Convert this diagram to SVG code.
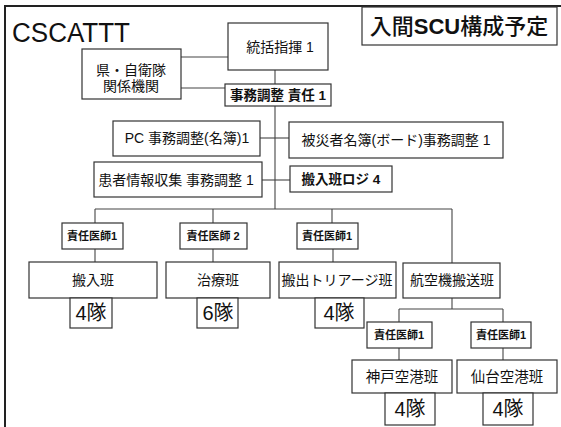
<svg xmlns="http://www.w3.org/2000/svg" width="561" height="427" viewBox="0 0 561 427">
<style>
  .box { fill: #fff; stroke: #333; stroke-width: 1.2; }
  .ln { stroke: #444; stroke-width: 1.1; fill: none; }
  text { font-family: "Liberation Sans", "Noto Sans CJK JP", sans-serif; fill: #111; text-anchor: middle; }
  .t14 { font-size: 14px; }
  .b13 { font-size: 13.5px; font-weight: bold; }
  .doc { font-size: 11px; font-weight: bold; }
  .tai { font-size: 20px; }
</style>
<rect x="0" y="0" width="561" height="427" fill="#fff"/>
<g id="frame">
  <line x1="5" y1="6" x2="561" y2="6" stroke="#222" stroke-width="2"/>
  <line x1="5" y1="5" x2="5" y2="427" stroke="#222" stroke-width="2"/>
</g>
<g id="title">
  <text x="12" y="42" style="font-size:27px;text-anchor:start" textLength="118" lengthAdjust="spacingAndGlyphs">CSCATTT</text>
</g>
<g id="plan">
  <rect class="box" x="362" y="7" width="195" height="38"/>
  <text x="459" y="34" style="font-size:22px;font-weight:500">入間<tspan style="font-weight:bold">SCU</tspan>構成予定</text>
</g>
<g id="connectors">
  <line class="ln" x1="181" y1="57" x2="228" y2="57"/>
  <line class="ln" x1="181" y1="88" x2="225" y2="88"/>
  <line class="ln" x1="275" y1="70" x2="275" y2="84"/>
  <line class="ln" x1="275" y1="106" x2="275" y2="209"/>
  <line class="ln" x1="260" y1="138" x2="289" y2="138"/>
  <line class="ln" x1="262" y1="180" x2="290" y2="180"/>
  <line class="ln" x1="95" y1="209" x2="452" y2="209"/>
  <line class="ln" x1="95" y1="209" x2="95" y2="223"/>
  <line class="ln" x1="213" y1="209" x2="213" y2="223"/>
  <line class="ln" x1="332" y1="209" x2="332" y2="223"/>
  <line class="ln" x1="452" y1="209" x2="452" y2="263"/>
  <line class="ln" x1="95" y1="249" x2="95" y2="262"/>
  <line class="ln" x1="213" y1="249" x2="213" y2="262"/>
  <line class="ln" x1="333" y1="249" x2="333" y2="262"/>
  <line class="ln" x1="452" y1="298" x2="452" y2="309"/>
  <line class="ln" x1="399" y1="309" x2="503" y2="309"/>
  <line class="ln" x1="399" y1="309" x2="399" y2="322"/>
  <line class="ln" x1="503" y1="309" x2="503" y2="322"/>
  <line class="ln" x1="399" y1="348" x2="399" y2="360"/>
  <line class="ln" x1="503" y1="348" x2="503" y2="360"/>
</g>
<g id="n-command">
  <rect class="box" x="228" y="23" width="100" height="47"/>
  <text class="t14" x="280" y="52">統括指揮 1</text>
</g>
<g id="n-pref">
  <rect class="box" x="82" y="49" width="99" height="50"/>
  <text class="t14" x="131" y="75">県・自衛隊</text>
  <text class="t14" x="131" y="91">関係機関</text>
</g>
<g id="n-admin">
  <rect class="box" x="225" y="84" width="106" height="22"/>
  <text class="b13" x="278" y="100">事務調整 責任 1</text>
</g>
<g id="n-pc">
  <rect class="box" x="113" y="121" width="147" height="35"/>
  <text class="t14" x="187" y="143">PC 事務調整(名簿)1</text>
</g>
<g id="n-board">
  <rect class="box" x="289" y="122" width="214" height="36"/>
  <text class="t14" x="396" y="145">被災者名簿(ボード)事務調整 1</text>
</g>
<g id="n-patient">
  <rect class="box" x="94" y="162" width="168" height="35"/>
  <text class="t14" x="176" y="185">患者情報収集 事務調整 1</text>
</g>
<g id="n-logi">
  <rect class="box" x="290" y="166" width="102" height="26"/>
  <text class="b13" x="341" y="184">搬入班ロジ 4</text>
</g>
<g id="n-doc1">
  <rect class="box" x="62" y="223" width="61" height="26"/>
  <text class="doc" x="92" y="240">責任医師1</text>
</g>
<g id="n-doc2">
  <rect class="box" x="180" y="223" width="67" height="26"/>
  <text class="doc" x="213" y="240">責任医師 2</text>
</g>
<g id="n-doc3">
  <rect class="box" x="297" y="223" width="61" height="26"/>
  <text class="doc" x="327" y="240">責任医師1</text>
</g>
<g id="n-carryin">
  <rect class="box" x="29" y="262" width="128" height="36"/>
  <text class="t14" x="93" y="285">搬入班</text>
  <rect class="box" x="70" y="298" width="42" height="30"/>
  <text class="tai" x="91" y="320">4隊</text>
</g>
<g id="n-treat">
  <rect class="box" x="166" y="262" width="104" height="36"/>
  <text class="t14" x="218" y="285">治療班</text>
  <rect class="box" x="197" y="298" width="41" height="30"/>
  <text class="tai" x="218" y="320">6隊</text>
</g>
<g id="n-triage">
  <rect class="box" x="279" y="262" width="117" height="36"/>
  <text class="t14" x="337" y="285">搬出トリアージ班</text>
  <rect class="box" x="315" y="298" width="49" height="30"/>
  <text class="tai" x="339" y="320">4隊</text>
</g>
<g id="n-air">
  <rect class="box" x="403" y="263" width="97" height="35"/>
  <text class="t14" x="452" y="285">航空機搬送班</text>
</g>
<g id="n-doc4">
  <rect class="box" x="367" y="322" width="65" height="26"/>
  <text class="doc" x="399" y="339">責任医師1</text>
</g>
<g id="n-doc5">
  <rect class="box" x="471" y="322" width="60" height="26"/>
  <text class="doc" x="501" y="339">責任医師1</text>
</g>
<g id="n-kobe">
  <rect class="box" x="352" y="360" width="100" height="33"/>
  <text class="t14" x="402" y="382" style="font-size:14.5px">神戸空港班</text>
  <rect class="box" x="385" y="393" width="50" height="32"/>
  <text class="tai" x="410" y="416">4隊</text>
</g>
<g id="n-sendai">
  <rect class="box" x="457" y="360" width="100" height="33"/>
  <text class="t14" x="507" y="382" style="font-size:14.5px">仙台空港班</text>
  <rect class="box" x="483" y="393" width="50" height="32"/>
  <text class="tai" x="508" y="416">4隊</text>
</g>
</svg>
